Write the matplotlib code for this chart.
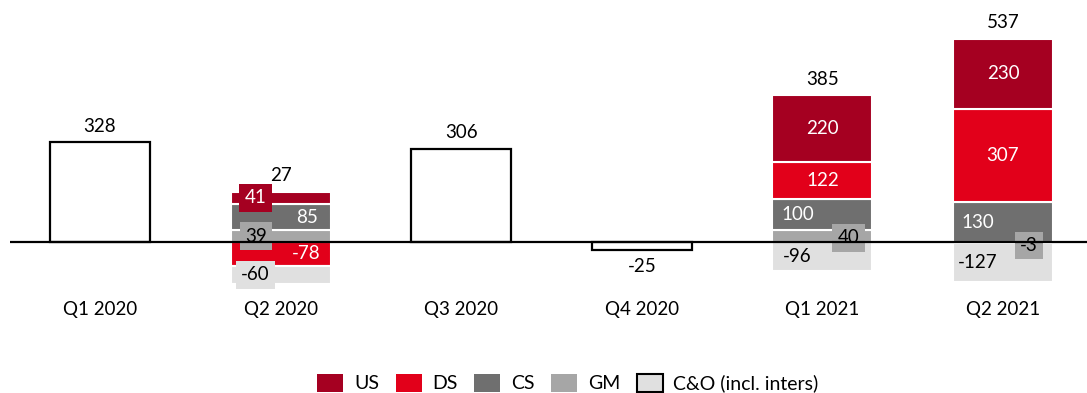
import numpy as np
import matplotlib
matplotlib.use("Agg")
import matplotlib.pyplot as plt
from matplotlib.patches import Patch

plt.rcParams['font.family'] = ['Lato', 'DejaVu Sans']

# ---- data -------------------------------------------------------------
quarters = ['Q1 2020', 'Q2 2020', 'Q3 2020', 'Q4 2020', 'Q1 2021', 'Q2 2021']
totals = [328, 27, 306, -25, 385, 537]

nan = np.nan
us = [nan, 41, nan, nan, 220, 230]
ds = [nan, -78, nan, nan, 122, 307]
cs = [nan, 85, nan, nan, 100, 130]
gm = [nan, 39, nan, nan, 40, -3]
co = [nan, -60, nan, nan, -96, -127]

series_names = ['US', 'DS', 'CS', 'GM', 'C&O (incl. inters)']

# ---- style ------------------------------------------------------------
colors = {'US': '#A50021', 'DS': '#E2001A', 'CS': '#6F6F6F',
          'GM': '#A6A6A6', 'C&O (incl. inters)': '#E0E0E0'}
text_colors = {'US': 'white', 'DS': 'white', 'CS': 'white',
               'GM': 'black', 'C&O (incl. inters)': 'black'}
# stacking order from the zero line outwards
stack = [('GM', gm), ('CS', cs), ('DS', ds), ('US', us), ('C&O (incl. inters)', co)]

# label placement inside a stack: (series, quarter index) -> (side, boxed, dy in px)
placement = {
    ('US', 1): ('l', True, 0), ('CS', 1): ('r', False, 0), ('GM', 1): ('l', True, 0),
    ('DS', 1): ('r', False, 0), ('C&O (incl. inters)', 1): ('l', True, 0),
    ('CS', 4): ('l', False, 0), ('GM', 4): ('r', True, -2),
    ('C&O (incl. inters)', 4): ('l', False, 0),
    ('CS', 5): ('l', False, 0), ('GM', 5): ('r', True, -3),
    ('C&O (incl. inters)', 5): ('l', False, 0),
}
side_dx = {'l': -0.138, 'c': 0.0, 'r': 0.144}

FS = 13.5
W, H = 1087, 393
PX = 0.3045  # pixels per unit
fig = plt.figure(figsize=(W / 100, H / 100), dpi=100)
ax = fig.add_axes([0, 0, 1, 1])
ax.set_xlim(-0.5537, -0.5537 + W / 180.6)
ax.set_ylim(-151 / PX, 242 / PX)
ax.axis('off')

x = np.arange(len(quarters))
bw = 0.553

pos_bottom = np.zeros(len(quarters))
neg_bottom = np.zeros(len(quarters))
for name, vals in stack:
    v = np.array(vals, dtype=float)
    ok = ~np.isnan(v)
    vv = np.where(ok, v, 0.0)
    bottom = np.where(vv >= 0, pos_bottom, neg_bottom)
    ax.bar(x[ok], vv[ok], bw, bottom=bottom[ok], color=colors[name],
           edgecolor='white', linewidth=1.5, zorder=2)
    for i in np.where(ok)[0]:
        side, boxed, dy = placement.get((name, i), ('c', False, 0))
        yc = bottom[i] + vv[i] / 2 + dy / PX
        kw = {}
        if boxed:
            kw['bbox'] = dict(boxstyle='square,pad=0.28', facecolor=colors[name],
                              edgecolor='none')
        ax.text(x[i] + side_dx[side], yc, f"{int(vv[i])}", ha='center', va='center',
                fontsize=FS, color=text_colors[name], zorder=4, **kw)
    pos_bottom = np.where(vv >= 0, pos_bottom + vv, pos_bottom)
    neg_bottom = np.where(vv < 0, neg_bottom + vv, neg_bottom)

# undivided quarters: outlined total bars
has_split = ~np.isnan(np.array(us, dtype=float))
for i, t in enumerate(totals):
    if not has_split[i]:
        ax.bar(x[i], t, bw, color='white', edgecolor='black', linewidth=1.6, zorder=2)

# total labels
for i, t in enumerate(totals):
    if has_split[i]:
        top = pos_bottom[i] if t >= 0 else neg_bottom[i]
    else:
        top = t
    dy = 11.5 if t >= 0 else -12.5
    ax.annotate(f"{t}", (x[i], top), xytext=(0, dy), textcoords='offset points',
                ha='center', va='center', fontsize=FS, color='black', zorder=4)

# zero line
ax.plot([-0.5, ax.get_xlim()[1]], [0, 0], color='black', linewidth=1.6, zorder=5,
        solid_capstyle='butt')

# category labels
for i, q in enumerate(quarters):
    ax.text(x[i], -(310 - 242) / PX, q, ha='center', va='center', fontsize=FS)

# legend
handles = []
for name in series_names:
    if name == 'C&O (incl. inters)':
        handles.append(Patch(facecolor=colors[name], edgecolor='black', linewidth=1.5))
    else:
        handles.append(Patch(facecolor=colors[name], edgecolor='none'))
fig.legend(handles, series_names, loc='center', bbox_to_anchor=(568 / W, 1 - 383 / H),
           ncol=5, frameon=False, fontsize=14, handlelength=1.34, handleheight=1.1,
           handletextpad=0.55, columnspacing=0.85, borderpad=0, borderaxespad=0)

fig.savefig('out.png', dpi=100)
